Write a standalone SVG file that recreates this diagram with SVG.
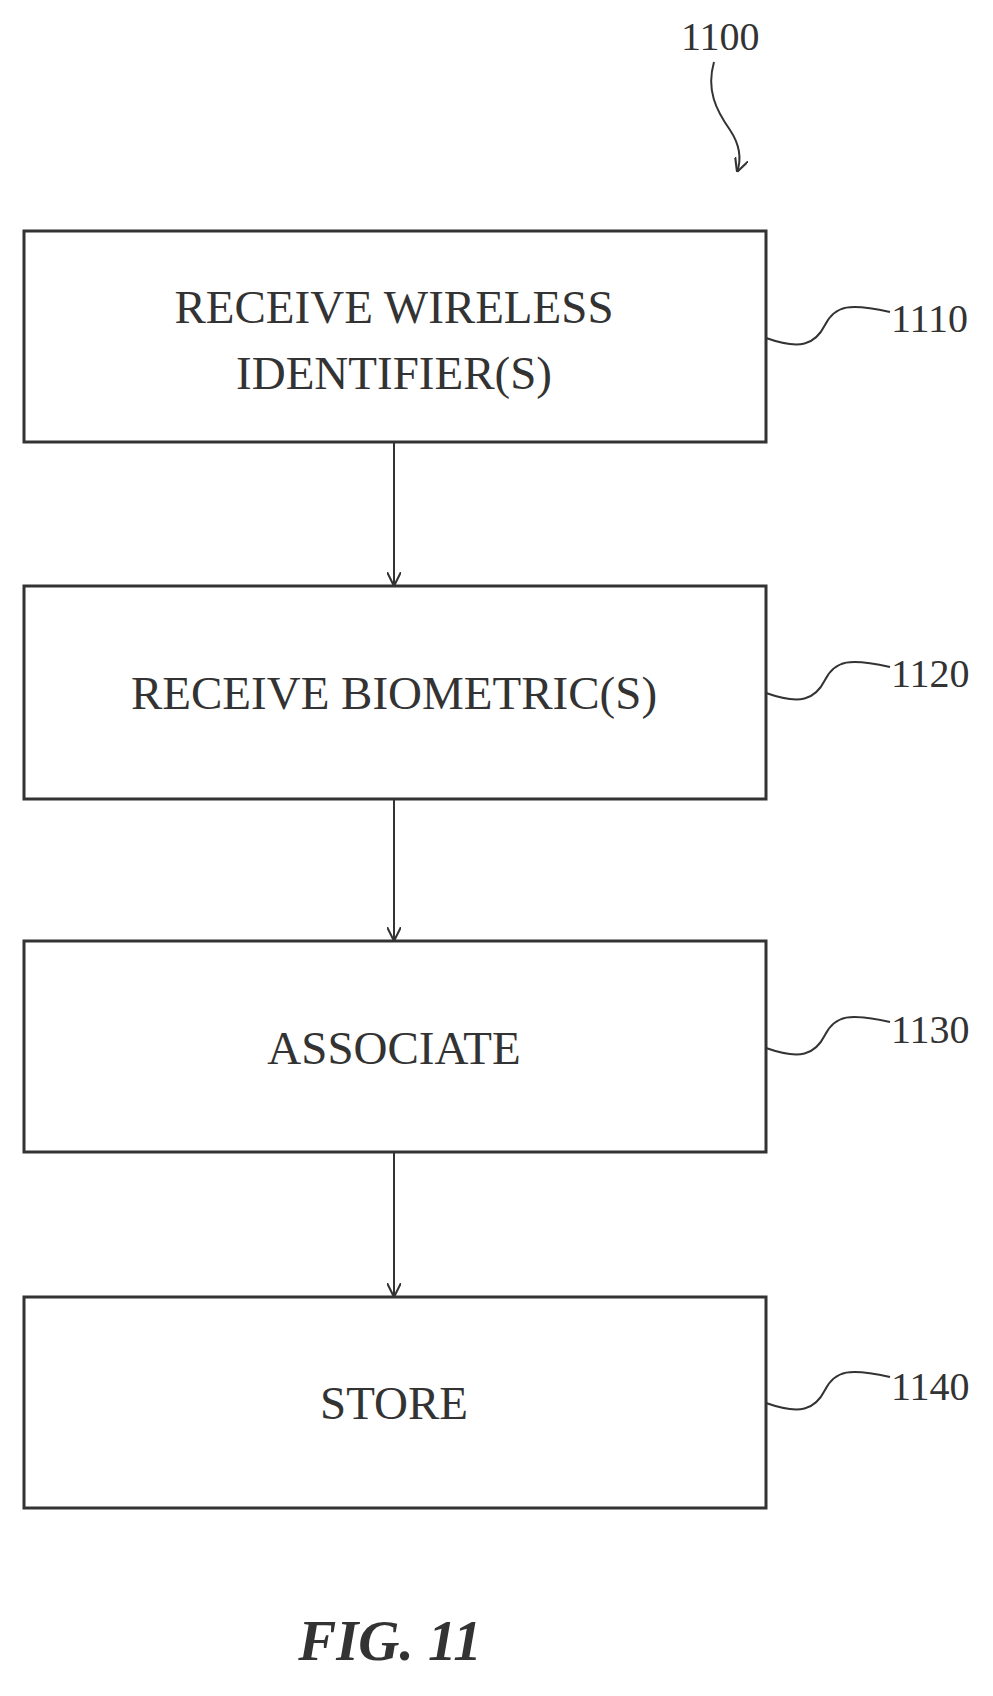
<svg xmlns="http://www.w3.org/2000/svg" width="993" height="1696" viewBox="0 0 993 1696">
<style>
.b{fill:#fff;stroke:#333;stroke-width:3}
.t{font-family:"Liberation Serif",serif;font-size:47px;fill:#333;text-anchor:middle}
.l{font-family:"Liberation Serif",serif;font-size:40px;fill:#333}
.c{fill:none;stroke:#333;stroke-width:2}
</style>
<defs><marker id="a" viewBox="0 0 10 10" refX="10" refY="5" markerWidth="7" markerHeight="7" orient="auto"><path d="M0,0L10,5L0,10" fill="none" stroke="#333" stroke-width="1.5"/></marker></defs>
<rect width="993" height="1696" fill="#fff"/>
<g id="n1110"><rect class="b" x="24" y="231" width="742" height="211"/><text class="t" x="394" y="323">RECEIVE WIRELESS</text><text class="t" x="394" y="389">IDENTIFIER(S)</text><text class="l" x="891" y="332">1110</text></g>
<g id="n1120"><rect class="b" x="24" y="586" width="742" height="213"/><text class="t" x="394" y="709">RECEIVE BIOMETRIC(S)</text><text class="l" x="891" y="687">1120</text></g>
<g id="n1130"><rect class="b" x="24" y="941" width="742" height="211"/><text class="t" x="394" y="1064">ASSOCIATE</text><text class="l" x="891" y="1043">1130</text></g>
<g id="n1140"><rect class="b" x="24" y="1297" width="742" height="211"/><text class="t" x="394" y="1419">STORE</text><text class="l" x="891" y="1400">1140</text></g>
<g id="n1100"><text class="l" x="681" y="50">1100</text></g>
<g id="connectors">
<path class="c" marker-end="url(#a)" d="M394,442V586"/>
<path class="c" marker-end="url(#a)" d="M394,799V941"/>
<path class="c" marker-end="url(#a)" d="M394,1152V1297"/>
<path class="c" d="M766,338C800,350 815,345 825,325C835,305 850,303 890,312"/>
<path class="c" d="M766,693C800,705 815,700 825,680C835,660 850,658 890,667"/>
<path class="c" d="M766,1048C800,1060 815,1055 825,1035C835,1015 850,1013 890,1022"/>
<path class="c" d="M766,1403C800,1415 815,1410 825,1390C835,1370 850,1368 890,1377"/>
<path class="c" marker-end="url(#a)" d="M714,62C706,90 716,110 730,130C740,145 742,158 737,172"/>
</g>
<text x="390" y="1660" font-family="Liberation Serif,serif" font-size="57" font-style="italic" font-weight="bold" fill="#333" text-anchor="middle">FIG. 11</text>
</svg>
